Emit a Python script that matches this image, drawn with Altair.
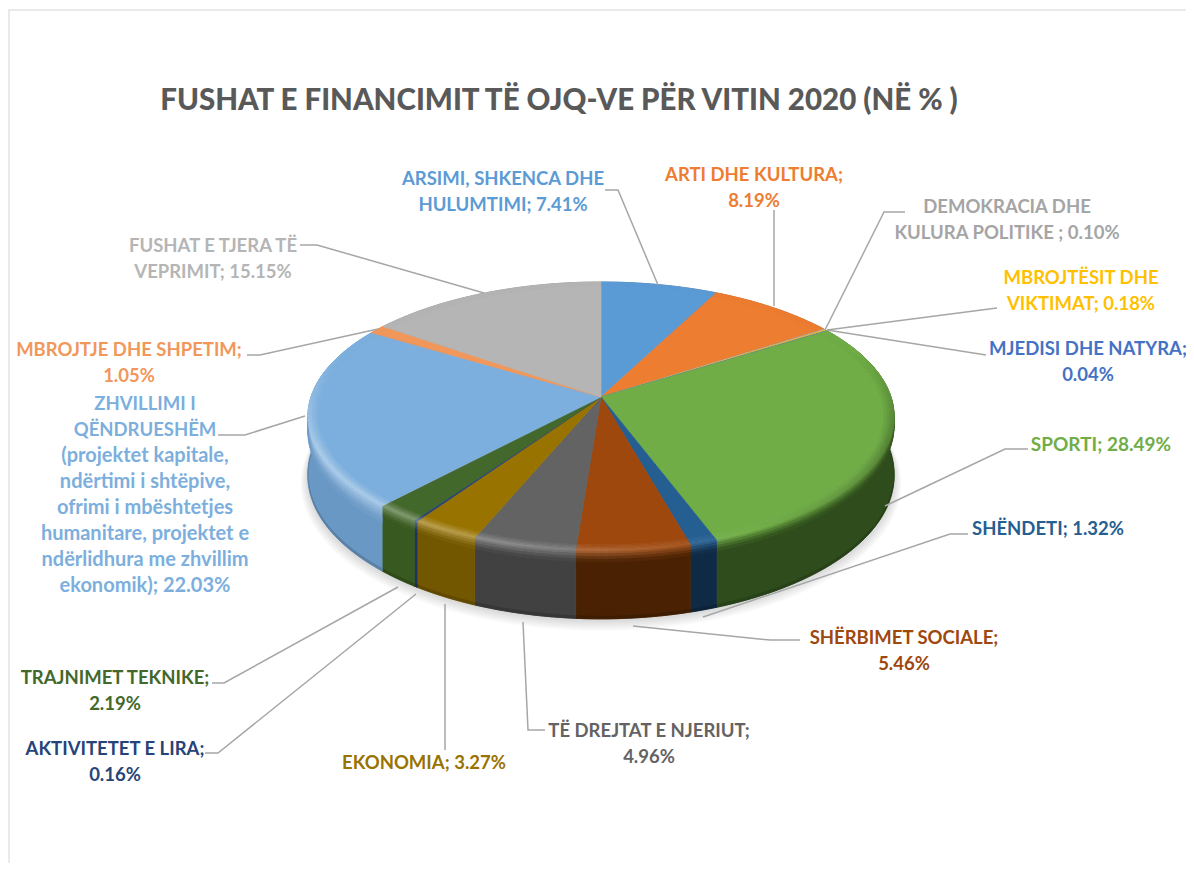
import math
import numpy as np
import pandas as pd
import altair as alt

alt.data_transformers.disable_max_rows()

TITLE = "FUSHAT E FINANCIMIT TË OJQ-VE PËR VITIN 2020 (NË % )"
names = ["ARSIMI, SHKENCA DHE HULUMTIMI", "ARTI DHE KULTURA", "DEMOKRACIA DHE KULURA POLITIKE",
         "MBROJTËSIT DHE VIKTIMAT", "MJEDISI DHE NATYRA", "SPORTI", "SHËNDETI", "SHËRBIMET SOCIALE",
         "TË DREJTAT E NJERIUT", "EKONOMIA", "AKTIVITETET E LIRA", "TRAJNIMET TEKNIKE",
         "ZHVILLIMI I QËNDRUESHËM", "MBROJTJE DHE SHPETIM", "FUSHAT E TJERA TË VEPRIMIT"]
values = [7.41, 8.19, 0.10, 0.18, 0.04, 28.49, 1.32, 5.46, 4.96, 3.27, 0.16, 2.19, 22.03, 1.05, 15.15]
top_colors = ["#5b9bd5", "#ed7d31", "#a5a5a5", "#e5b93a", "#4472c4", "#70ad47", "#255e91", "#9e480e",
              "#636363", "#997300", "#264478", "#43682b", "#7cafdd", "#f1975a", "#b5b5b5"]
wall_colors = ["#3f6f9c", "#a85820", "#757575", "#a08000", "#2c5090", "#2f4d1c", "#0f2a45", "#4a2203",
               "#414141", "#735700", "#1c3460", "#38591f", "#6a98c4", "#b06a3a", "#808080"]

# label text, colour index, centre x, first baseline y, font size
label_lines = [
    (["ARSIMI, SHKENCA DHE", "HULUMTIMI; 7.41%"], 0, 503, 179, 18.5),
    (["ARTI DHE KULTURA;", "8.19%"], 1, 754, 175, 18.5),
    (["DEMOKRACIA DHE", "KULURA POLITIKE ; 0.10%"], 2, 1007, 207, 18.5),
    (["MBROJTËSIT DHE", "VIKTIMAT; 0.18%"], 3, 1081, 278, 18.5),
    (["MJEDISI DHE NATYRA;", "0.04%"], 4, 1088, 349, 18.5),
    (["SPORTI; 28.49%"], 5, 1101, 445, 19),
    (["SHËNDETI; 1.32%"], 6, 1048, 529, 18.5),
    (["SHËRBIMET SOCIALE;", "5.46%"], 7, 904, 638, 18.5),
    (["TË DREJTAT E NJERIUT;", "4.96%"], 8, 649, 731, 18.5),
    (["EKONOMIA; 3.27%"], 9, 424, 763, 18.5),
    (["AKTIVITETET E LIRA;", "0.16%"], 10, 115, 749, 18.5),
    (["TRAJNIMET TEKNIKE;", "2.19%"], 11, 115, 678, 18.5),
    (["ZHVILLIMI I", "QËNDRUESHËM"], 12, 145, 404, 18.5),
    (["(projektet kapitale,", "ndërtimi i shtëpive,",
      "ofrimi i mbështetjes", "humanitare, projektet e", "ndërlidhura me zhvillim",
      "ekonomik); 22.03%"], 12, 145, 456, 20),
    (["MBROJTJE DHE SHPETIM;", "1.05%"], 13, 129, 350, 18.5),
    (["FUSHAT E TJERA TË", "VEPRIMIT; 15.15%"], 14, 213, 246, 18.5),
]
leaders = [
    [(605, 190), (618, 190), (658, 285)],
    [(774, 210), (774, 306)],
    [(905, 212), (884, 212), (825, 330)],
    [(997, 308), (827, 330)],
    [(986, 355), (827, 330)],
    [(1028, 449), (1005, 449), (885, 506)],
    [(968, 534), (950, 534), (703, 617)],
    [(800, 640), (770, 640), (633, 626)],
    [(545, 730), (528, 730), (523, 622)],
    [(445, 750), (445, 604)],
    [(205, 753), (218, 753), (416, 594)],
    [(212, 683), (224, 683), (398, 587)],
    [(218, 435), (245, 435), (305, 416)],
    [(247, 355), (260, 355), (378, 329)],
    [(300, 245), (317, 245), (484, 293)],
]

# tilted pie projection
CX, CY, A, B, K, DEPTH = 601, 397, 290, 131.7, 0.145, 58


def proj(r, t, drop=0.0, grow=1.0):
    s = r * math.sin(t) * grow
    c = r * math.cos(t) * grow
    d = 1 + K * c
    return CX + A * s / d, CY - B * c / d + drop / (1 + K * r * math.cos(t))


def hex2rgb(h):
    return [int(h[i:i + 2], 16) for i in (1, 3, 5)]


def mix(c1, c2, f):
    a, b = hex2rgb(c1), hex2rgb(c2)
    return "#%02x%02x%02x" % tuple(int(round(x + (y - x) * f)) for x, y in zip(a, b))


def lit(t):
    l = -math.sin(t) * 0.30 + (-math.cos(t)) * 0.16
    return l * min(1.0, max(0.0, -math.cos(t) + 0.35) * 1.4)


def shade(c, l):
    return mix(c, "#ffffff", l) if l > 0 else mix(c, "#000000", -l)


polys = []
gid = 0


def add(points, color):
    global gid
    gid += 1
    for i, (x, y) in enumerate(points):
        polys.append({"g": gid, "i": i, "x": round(x, 2), "y": round(y, 2), "c": color})


total = sum(values)
edges = np.cumsum([0] + values) / total * 2 * math.pi
STEP = math.radians(1.5)
R0 = 0.965

spans = []
for idx in range(len(values)):
    a0, a1 = edges[idx], edges[idx + 1]
    n = max(1, math.ceil((a1 - a0) / STEP))
    spans.append((idx, [a0 + (a1 - a0) * j / n for j in range(n + 1)]))

# soft shadow under the disc
shadow_rows = []
shadow_id = 0
for sh in range(7):
    shadow_id += 1
    g = 1.0 + 0.004 * sh
    for i, t in enumerate(np.linspace(0, 2 * math.pi, 121)):
        x, y = proj(1, t, DEPTH + 1 + sh * 0.9, g)
        shadow_rows.append({"g": shadow_id, "i": i, "x": round(x, 2), "y": round(y, 2)})

# side wall: one solid piece per slice, then a soft band under the rim
for idx, ts in spans:
    w = wall_colors[idx]
    top = [proj(1, t) for t in ts]
    bot = [proj(1, t, DEPTH) for t in reversed(ts)]
    add(top + bot, w)
    top2 = [proj(1, t, DEPTH * 0.96) for t in ts]
    add(top2 + bot, mix(w, "#000000", 0.16))
for idx, ts in spans:
    if idx == 12:
        band_levels = [(0.0, 0.05, 0.15), (0.05, 0.10, 0.35), (0.10, 0.15, 0.55), (0.15, 0.2, 0.75), (0.2, 0.26, 0.9)]
    else:
        band_levels = [(0.0, 0.04, 0.2), (0.04, 0.08, 0.45), (0.08, 0.12, 0.7), (0.12, 0.16, 0.9)]
    for t0, t1 in zip(ts[:-1], ts[1:]):
        tm = (t0 + t1) / 2
        if math.cos(tm) > 0.62:
            continue
        rim = shade(top_colors[idx], lit(tm))
        for v0, v1, f in band_levels:
            add([proj(1, t0, DEPTH * v0), proj(1, t1, DEPTH * v0),
                 proj(1, t1, DEPTH * v1), proj(1, t0, DEPTH * v1)], mix(rim, wall_colors[idx], f))

# top face
for idx, ts in spans:
    add([proj(0, 0)] + [proj(R0, t) for t in ts], top_colors[idx])
# bevelled ring round the face
ring = [(R0, 0.972, 0.15), (0.972, 0.979, 0.35), (0.979, 0.986, 0.55), (0.986, 0.993, 0.8), (0.993, 1.0, 1.0)]
for idx, ts in spans:
    for t0, t1 in zip(ts[:-1], ts[1:]):
        tm = (t0 + t1) / 2
        l = lit(tm)
        for r0, r1, f in ring:
            add([proj(r0, t0), proj(r0, t1), proj(r1, t1), proj(r1, t0)], shade(top_colors[idx], l * f))

poly_df = pd.DataFrame(polys)

X = alt.X("x:Q", scale=alt.Scale(domain=[8, 1186], nice=False, zero=False), axis=None)
Y = alt.Y("y:Q", scale=alt.Scale(domain=[863, 8], nice=False, zero=False), axis=None)

poly_layer = alt.Chart(poly_df).mark_line(strokeWidth=0.7, interpolate="linear-closed").encode(
    x=X, y=Y, detail="g:N", order="i:Q",
    fill=alt.Fill("c:N", scale=None, legend=None),
    stroke=alt.Stroke("c:N", scale=None, legend=None),
)
shadow_layer = alt.Chart(pd.DataFrame(shadow_rows)).mark_line(
    fill="#000000", fillOpacity=0.022, strokeOpacity=0, interpolate="linear-closed"
).encode(x=X, y=Y, detail="g:N", order="i:Q")

leader_rows = []
for j, path in enumerate(leaders):
    for i, (x, y) in enumerate(path):
        leader_rows.append({"g": j, "i": i, "x": x, "y": y})
leader_layer = alt.Chart(pd.DataFrame(leader_rows)).mark_line(color="#a6a6a6", strokeWidth=1.5).encode(
    x=X, y=Y, detail="g:N", order="i:Q")

frame_rows = [{"i": 0, "x": 1186, "y": 10}, {"i": 1, "x": 9, "y": 10}, {"i": 2, "x": 9, "y": 863}]
frame_layer = alt.Chart(pd.DataFrame(frame_rows)).mark_line(color="#e4e4e4", strokeWidth=1.5).encode(
    x=X, y=Y, order="i:Q")

text_rows = []
for lines, ci, cx, y0, fs in label_lines:
    for n, line in enumerate(lines):
        text_rows.append({"t": line, "x": cx, "y": y0 + 26 * n, "fs": fs,
                          "c": top_colors[ci] if ci != 3 else "#ffc000"})
text_layer = alt.Chart(pd.DataFrame(text_rows)).mark_text(
    font="Lato", fontWeight="bold", align="center", baseline="alphabetic", dy=6
).encode(x=X, y=Y, text="t:N", color=alt.Color("c:N", scale=None, legend=None),
         size=alt.Size("fs:Q", scale=None, legend=None))

title_layer = alt.Chart(pd.DataFrame([{"t": TITLE, "x": 559, "y": 110}])).mark_text(
    font="Lato", fontWeight=900, fontSize=29.5, align="center", baseline="alphabetic", color="#595959"
).encode(x=X, y=Y, text="t:N")

chart = alt.layer(frame_layer, title_layer, shadow_layer, poly_layer, leader_layer, text_layer).properties(
    width=1178, height=855, padding=0, autosize=alt.AutoSizeParams(type="none"), background="#ffffff"
).configure_view(stroke=None)

chart.save("out.html", embed_options={"renderer": "svg", "actions": False})
